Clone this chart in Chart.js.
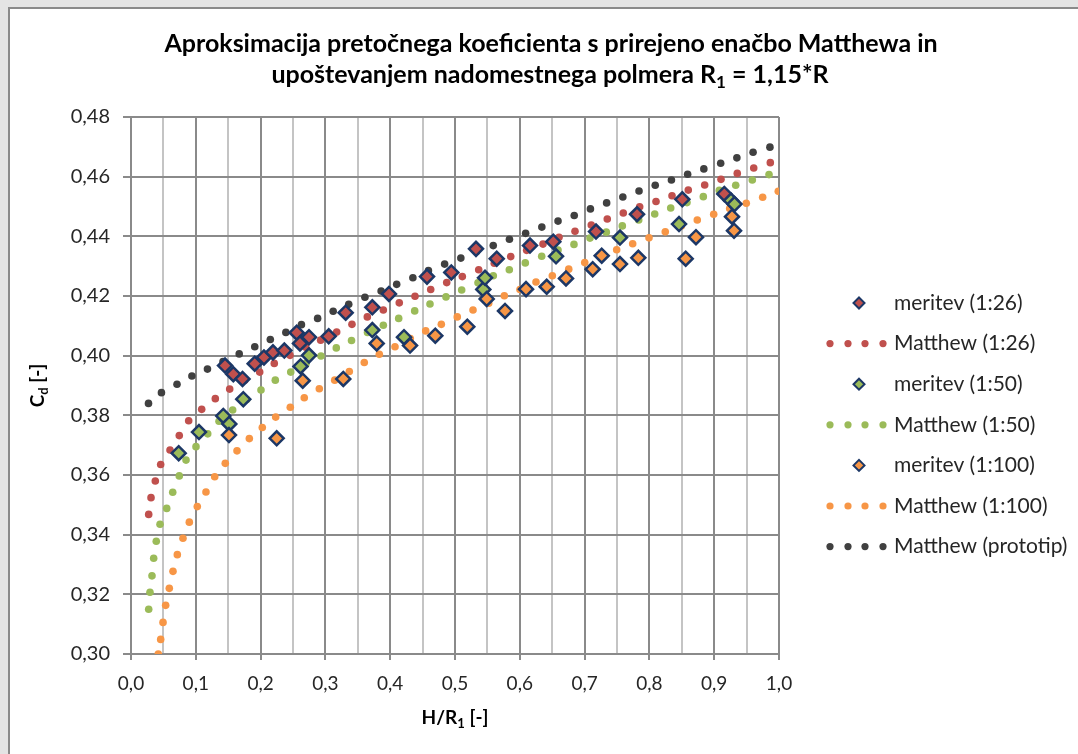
<!DOCTYPE html>
<html>
<head>
<meta charset="utf-8">
<title>Aproksimacija pretočnega koeficienta</title>
<script src="https://cdn.jsdelivr.net/npm/chart.js@4"></script>
<style>
    body { margin: 0; background: #e4e4e4; overflow: hidden; }
    #frame {
        position: absolute; left: 8px; top: 7px;
        width: 1070px; height: 747px;
        background: #fff;
        border-left: 2px solid #8a8a8a;
        border-top: 2px solid #8a8a8a;
    }
    #box { position: absolute; left: 0; top: 0; width: 1068px; height: 745px; }
</style>
</head>
<body>
<div id="frame"><div id="box"><canvas id="cd-chart"></canvas></div></div>
<script>
// Measured points (meritev) and Matthew approximation curves, H/R1 vs Cd

const mer26X = [0.1451, 0.1579, 0.1721, 0.1909, 0.2052, 0.2191, 0.2366, 0.2557, 0.2608, 0.2747, 0.3051, 0.3313,
                0.3724, 0.3981, 0.4568, 0.4943, 0.5324, 0.5644, 0.6157, 0.6517, 0.7176, 0.7809, 0.8508, 0.9156];
const mer26Y = [0.3967, 0.3938, 0.3922, 0.3973, 0.3994, 0.4011, 0.4017, 0.4077, 0.4041, 0.4062, 0.4065, 0.4144,
                0.4162, 0.4207, 0.4265, 0.4279, 0.4358, 0.4325, 0.4369, 0.4382, 0.4416, 0.4474, 0.4524, 0.4542];

const mer50X = [0.0736, 0.1049, 0.1424, 0.1517, 0.1733, 0.2616, 0.2747, 0.3724, 0.4213, 0.5437, 0.5463, 0.6559,
                0.7546, 0.8457, 0.9259, 0.9313];
const mer50Y = [0.3673, 0.3744, 0.3798, 0.3771, 0.3854, 0.3964, 0.4001, 0.4086, 0.4062, 0.4222, 0.4261, 0.4333,
                0.4396, 0.4441, 0.4520, 0.4508];

const mer100X = [0.1512, 0.2248, 0.2650, 0.3276, 0.3792, 0.4306, 0.4696, 0.5190, 0.5489, 0.5772, 0.6096, 0.6415,
                 0.6713, 0.7125, 0.7264, 0.7546, 0.7829, 0.8560, 0.8719, 0.9275, 0.9306];
const mer100Y = [0.3734, 0.3723, 0.3916, 0.3922, 0.4041, 0.4034, 0.4067, 0.4097, 0.4190, 0.4150, 0.4223, 0.4231,
                 0.4259, 0.4290, 0.4335, 0.4307, 0.4328, 0.4325, 0.4397, 0.4466, 0.4419];

const mat26X = [0.0273, 0.0309, 0.0375, 0.0458, 0.0602, 0.0745, 0.0890, 0.1091, 0.1301, 0.1523, 0.1755, 0.1986,
                0.2211, 0.2454, 0.2696, 0.2927, 0.3174, 0.3410, 0.3647, 0.3894, 0.4140, 0.4383, 0.4625, 0.4872,
                0.5113, 0.5366, 0.5606, 0.5860, 0.6106, 0.6358, 0.6605, 0.6852, 0.7103, 0.7350, 0.7597, 0.7850,
                0.8102, 0.8349, 0.8600, 0.8853, 0.9105, 0.9356, 0.9610, 0.9866];
const mat26Y = [0.3468, 0.3524, 0.3580, 0.3635, 0.3684, 0.3732, 0.3782, 0.3820, 0.3856, 0.3888, 0.3918, 0.3945,
                0.3974, 0.4001, 0.4028, 0.4052, 0.4079, 0.4105, 0.4130, 0.4153, 0.4177, 0.4199, 0.4222, 0.4245,
                0.4265, 0.4288, 0.4310, 0.4332, 0.4353, 0.4374, 0.4397, 0.4417, 0.4438, 0.4458, 0.4478, 0.4499,
                0.4517, 0.4536, 0.4555, 0.4572, 0.4591, 0.4611, 0.4629, 0.4647];

const mat50X = [0.0273, 0.0293, 0.0324, 0.0350, 0.0390, 0.0448, 0.0551, 0.0644, 0.0745, 0.0849, 0.1003, 0.1184,
                0.1358, 0.1569, 0.1785, 0.2006, 0.2227, 0.2465, 0.2701, 0.2932, 0.3168, 0.3403, 0.3650, 0.3894,
                0.4131, 0.4378, 0.4614, 0.4861, 0.5103, 0.5355, 0.5591, 0.5838, 0.6085, 0.6338, 0.6590, 0.6836,
                0.7083, 0.7335, 0.7582, 0.7835, 0.8082, 0.8329, 0.8580, 0.8832, 0.9079, 0.9332, 0.9588, 0.9846];
const mat50Y = [0.3150, 0.3207, 0.3262, 0.3321, 0.3378, 0.3435, 0.3488, 0.3542, 0.3597, 0.3650, 0.3695, 0.3738,
                0.3780, 0.3818, 0.3853, 0.3885, 0.3918, 0.3945, 0.3974, 0.3999, 0.4026, 0.4051, 0.4078, 0.4102,
                0.4125, 0.4150, 0.4173, 0.4197, 0.4220, 0.4244, 0.4268, 0.4288, 0.4311, 0.4333, 0.4354, 0.4373,
                0.4394, 0.4414, 0.4435, 0.4455, 0.4475, 0.4495, 0.4513, 0.4533, 0.4554, 0.4571, 0.4589, 0.4607];

const mat100X = [0.0421, 0.0458, 0.0494, 0.0535, 0.0591, 0.0648, 0.0715, 0.0802, 0.0900, 0.1023, 0.1157, 0.1292,
                 0.1455, 0.1636, 0.1826, 0.2026, 0.2233, 0.2458, 0.2674, 0.2906, 0.3144, 0.3369, 0.3600, 0.3832,
                 0.4074, 0.4310, 0.4548, 0.4789, 0.5035, 0.5278, 0.5520, 0.5761, 0.6003, 0.6250, 0.6502, 0.6755,
                 0.7002, 0.7242, 0.7495, 0.7742, 0.7994, 0.8245, 0.8492, 0.8739, 0.8992, 0.9239, 0.9495, 0.9748, 0.9989];
const mat100Y = [0.3000, 0.3049, 0.3106, 0.3163, 0.3220, 0.3277, 0.3333, 0.3388, 0.3442, 0.3494, 0.3543, 0.3594,
                 0.3639, 0.3681, 0.3722, 0.3759, 0.3794, 0.3827, 0.3859, 0.3889, 0.3918, 0.3947, 0.3977, 0.4005,
                 0.4030, 0.4057, 0.4083, 0.4105, 0.4130, 0.4153, 0.4176, 0.4201, 0.4222, 0.4247, 0.4268, 0.4290,
                 0.4312, 0.4333, 0.4355, 0.4375, 0.4395, 0.4415, 0.4435, 0.4455, 0.4474, 0.4493, 0.4511, 0.4531, 0.4551];

const protoX = [0.027, 0.047, 0.071, 0.094, 0.118, 0.142, 0.167, 0.191, 0.215, 0.239, 0.263, 0.288, 0.312, 0.336,
                0.361, 0.386, 0.410, 0.435, 0.459, 0.484, 0.509, 0.533, 0.559, 0.584, 0.609, 0.634, 0.659, 0.684,
                0.709, 0.734, 0.759, 0.784, 0.809, 0.834, 0.859, 0.884, 0.910, 0.935, 0.960, 0.986];
const protoY = [0.3840, 0.3876, 0.3904, 0.3932, 0.3955, 0.3980, 0.4006, 0.4030, 0.4054, 0.4078, 0.4104, 0.4125,
                0.4149, 0.4172, 0.4196, 0.4217, 0.4239, 0.4261, 0.4285, 0.4307, 0.4327, 0.4349, 0.4369, 0.4390,
                0.4410, 0.4431, 0.4451, 0.4470, 0.4492, 0.4512, 0.4532, 0.4552, 0.4571, 0.4589, 0.4608, 0.4626,
                0.4645, 0.4663, 0.4682, 0.4699];

const xTicks = { min: 0, max: 1, step: 0.05 };
const yTicks = { min: 0.30, max: 0.48, step: 0.02 };

const RED = '#c0504d';
const GREEN = '#9bbb59';
const ORANGE = '#f79646';
const DARK = '#404040';
const NAVY = '#1c3766';
const MAJOR_GRID = '#8a8a8a';
const MINOR_GRID = '#c4c4c4';
const FONT = 'Lato';

Chart.defaults.font.family = FONT;
Chart.defaults.color = '#262626';

function toPoints(xs, ys) {
    return xs.map((x, i) => ({ x: x, y: ys[i] }));
}

function measured(label, xs, ys, fill, order) {
    return {
        label: label,
        data: toPoints(xs, ys),
        pointStyle: 'rectRot',
        pointRadius: 7,
        pointHoverRadius: 7,
        backgroundColor: fill,
        borderColor: NAVY,
        borderWidth: 2.5,
        order: order
    };
}

function matthew(label, xs, ys, color, order) {
    return {
        label: label,
        data: toPoints(xs, ys),
        pointStyle: 'circle',
        pointRadius: 3.8,
        pointHoverRadius: 3.8,
        backgroundColor: color,
        borderWidth: 0,
        order: order
    };
}

const legendItems = [
    { label: 'meritev (1:26)', kind: 'diamond', color: RED },
    { label: 'Matthew (1:26)', kind: 'dots', color: RED },
    { label: 'meritev (1:50)', kind: 'diamond', color: GREEN },
    { label: 'Matthew (1:50)', kind: 'dots', color: GREEN },
    { label: 'meritev (1:100)', kind: 'diamond', color: ORANGE },
    { label: 'Matthew (1:100)', kind: 'dots', color: ORANGE },
    { label: 'Matthew (prototip)', kind: 'dots', color: DARK }
];

// draws text pieces in a row, some of them as subscript
function drawParts(ctx, parts, cx, cy, size, weight) {
    const fontFor = p => weight + ' ' + (p.sub ? Math.round(size * 0.68) : size) + 'px ' + FONT;
    let total = 0;
    parts.forEach(p => {
        ctx.font = fontFor(p);
        p.w = ctx.measureText(p.t).width;
        total += p.w;
    });
    let x = cx - total / 2;
    ctx.textAlign = 'left';
    ctx.textBaseline = 'middle';
    parts.forEach(p => {
        ctx.font = fontFor(p);
        ctx.fillText(p.t, x, cy + (p.sub ? size * 0.32 : 0));
        x += p.w;
    });
}

function drawDiamond(ctx, x, y, r, fill) {
    ctx.beginPath();
    ctx.moveTo(x, y - r);
    ctx.lineTo(x + r, y);
    ctx.lineTo(x, y + r);
    ctx.lineTo(x - r, y);
    ctx.closePath();
    ctx.fillStyle = fill;
    ctx.fill();
    ctx.lineWidth = 2;
    ctx.strokeStyle = NAVY;
    ctx.stroke();
}

const textPlugin = {
    id: 'textPlugin',
    afterDraw(chart) {
        const ctx = chart.ctx;
        const area = chart.chartArea;
        ctx.save();
        ctx.fillStyle = '#000';

        // title
        drawParts(ctx, [{ t: 'Aproksimacija pretočnega koeficienta s prirejeno enačbo Matthewa in' }],
            541, 35, 25, 'bold');
        drawParts(ctx, [
            { t: 'upoštevanjem nadomestnega polmera R' },
            { t: '1', sub: true },
            { t: ' = 1,15*R' }
        ], 540, 66, 25, 'bold');

        // axis titles
        drawParts(ctx, [{ t: 'H/R' }, { t: '1', sub: true }, { t: ' [-]' }],
            (area.left + area.right) / 2, 709, 19, 'bold');
        ctx.save();
        ctx.translate(28, (area.top + area.bottom) / 2);
        ctx.rotate(-Math.PI / 2);
        drawParts(ctx, [{ t: 'C' }, { t: 'd', sub: true }, { t: ' [-]' }], 0, 0, 19, 'bold');
        ctx.restore();

        // legend
        legendItems.forEach((item, i) => {
            const y = 294 + i * 40.6;
            if (item.kind === 'diamond') {
                drawDiamond(ctx, 849, y, 5.5, item.color);
            } else {
                ctx.fillStyle = item.color;
                [820, 838, 855, 873].forEach(dx => {
                    ctx.beginPath();
                    ctx.arc(dx, y, 3.6, 0, Math.PI * 2);
                    ctx.fill();
                });
            }
            ctx.fillStyle = '#262626';
            ctx.font = '21px ' + FONT;
            ctx.textAlign = 'left';
            ctx.textBaseline = 'middle';
            ctx.fillText(item.label, 884, y);
        });
        ctx.restore();
    }
};

const ctx = document.getElementById('cd-chart').getContext('2d');

const cdChart = new Chart(ctx, {
    type: 'scatter',
    data: {
        datasets: [
            measured('meritev (1:26)', mer26X, mer26Y, RED, 3),
            matthew('Matthew (1:26)', mat26X, mat26Y, RED, 7),
            measured('meritev (1:50)', mer50X, mer50Y, GREEN, 2),
            matthew('Matthew (1:50)', mat50X, mat50Y, GREEN, 6),
            measured('meritev (1:100)', mer100X, mer100Y, ORANGE, 1),
            matthew('Matthew (1:100)', mat100X, mat100Y, ORANGE, 5),
            matthew('Matthew (prototip)', protoX, protoY, DARK, 4)
        ]
    },
    options: {
        responsive: true,
        maintainAspectRatio: false,
        animation: false,
        layout: {
            padding: { top: 108, left: 0, right: 299, bottom: 0 }
        },
        plugins: {
            legend: { display: false },
            title: { display: false },
            tooltip: { enabled: false }
        },
        scales: {
            x: {
                type: 'linear',
                min: xTicks.min,
                max: xTicks.max,
                afterFit: scale => { scale.height = 100; },
                border: { color: MAJOR_GRID, width: 2 },
                grid: {
                    lineWidth: 2,
                    tickLength: 6,
                    color: c => (c.index % 2 ? MINOR_GRID : MAJOR_GRID),
                    tickColor: c => (c.index % 2 ? 'rgba(0,0,0,0)' : MAJOR_GRID)
                },
                ticks: {
                    stepSize: xTicks.step,
                    autoSkip: false,
                    maxRotation: 0,
                    padding: 12,
                    font: { size: 19 },
                    callback: (value, index) => (index % 2 ? '' : value.toFixed(1).replace('.', ','))
                }
            },
            y: {
                type: 'linear',
                min: yTicks.min,
                max: yTicks.max,
                afterFit: scale => { scale.width = 121; },
                border: { color: MAJOR_GRID, width: 2 },
                grid: {
                    lineWidth: 2,
                    tickLength: 8,
                    color: MAJOR_GRID
                },
                ticks: {
                    stepSize: yTicks.step,
                    padding: 13,
                    font: { size: 20 },
                    callback: value => value.toFixed(2).replace('.', ',')
                }
            }
        }
    },
    plugins: [textPlugin]
});
</script>
</body>
</html>
